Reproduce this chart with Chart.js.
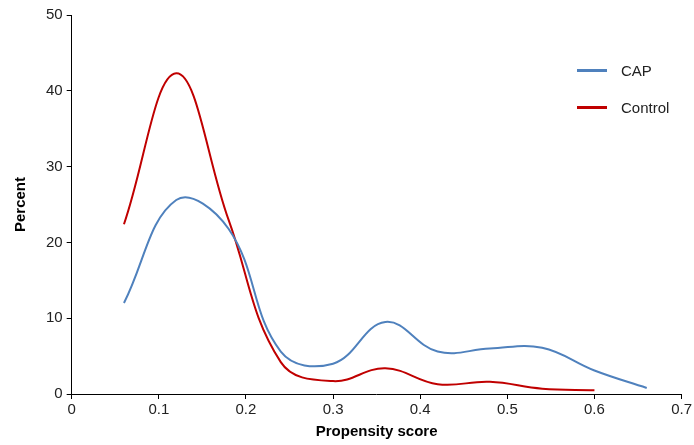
<!DOCTYPE html>
<html>
<head>
<meta charset="utf-8">
<script src="https://cdn.jsdelivr.net/npm/chart.js@4"></script>
<style>
  html, body { margin: 0; padding: 0; background: #fff; }
  #wrap { position: relative; width: 694px; height: 445px; }
  #legend { position: absolute; left: 577px; top: 60px; font-family: "Liberation Sans", Arial, sans-serif; font-size: 15px; color: #222; }
  .item { display: flex; align-items: center; height: 20px; margin-bottom: 17px; }
  .swatch { width: 30px; height: 3px; margin-right: 14px; }
</style>
</head>
<body>
<div id="wrap">
  <canvas id="chart" width="694" height="445"></canvas>
  <div id="legend"></div>
</div>
<script>
// Datos
const scores = [0.06, 0.12, 0.18, 0.24, 0.30, 0.36, 0.42, 0.48, 0.54, 0.60, 0.66];
const capValues = [12.0, 25.6, 21.8, 5.6, 4.0, 9.5, 5.6, 6.0, 6.1, 3.1, 0.8];
const controlValues = [22.4, 42.3, 23.0, 4.2, 1.7, 3.4, 1.3, 1.6, 0.7, 0.5];
const xTicks = [0, 0.1, 0.2, 0.3, 0.4, 0.5, 0.6, 0.7];
const yTicks = [0, 10, 20, 30, 40, 50];

const series = [
    { label: 'CAP', values: capValues, color: '#4F81BD' },
    { label: 'Control', values: controlValues, color: '#C00000' }
];

// Leyenda en HTML
const legend = document.getElementById('legend');
series.forEach(s => {
    const row = document.createElement('div');
    row.className = 'item';
    row.innerHTML = `<span class="swatch" style="background:${s.color}"></span><span>${s.label}</span>`;
    legend.appendChild(row);
});

const font = { family: '"Liberation Sans", Arial, sans-serif', size: 15 };

const ctx = document.getElementById('chart').getContext('2d');
new Chart(ctx, {
    type: 'line',
    data: {
        datasets: series.map(s => ({
            label: s.label,
            data: s.values.map((v, i) => ({ x: scores[i], y: v })),
            borderColor: s.color,
            backgroundColor: s.color,
            borderWidth: 2,
            pointRadius: 0,
            tension: 0.4,
            fill: false
        }))
    },
    options: {
        responsive: false,
        animation: false,
        layout: { padding: { top: 15, right: 12, left: 8, bottom: 0 } },
        plugins: {
            legend: { display: false },
            tooltip: { enabled: false }
        },
        scales: {
            x: {
                type: 'linear',
                min: 0,
                max: 0.7,
                afterBuildTicks: axis => { axis.ticks = xTicks.map(v => ({ value: v })); },
                ticks: { color: '#222', font: font, padding: 2, maxRotation: 0 },
                grid: { drawOnChartArea: false, tickLength: 5, color: '#000' },
                border: { color: '#000', width: 1 },
                title: { display: true, text: 'Propensity score', color: '#000', font: { family: font.family, size: 15, weight: 'bold' }, padding: { top: 2 } }
            },
            y: {
                min: 0,
                max: 50,
                afterBuildTicks: axis => { axis.ticks = yTicks.map(v => ({ value: v })); },
                ticks: { color: '#222', font: font, padding: 4 },
                grid: { drawOnChartArea: false, tickLength: 5, color: '#000' },
                border: { color: '#000', width: 1 },
                title: { display: true, text: 'Percent', color: '#000', font: { family: font.family, size: 15, weight: 'bold' }, padding: { bottom: 12 } }
            }
        }
    }
});
</script>
</body>
</html>
